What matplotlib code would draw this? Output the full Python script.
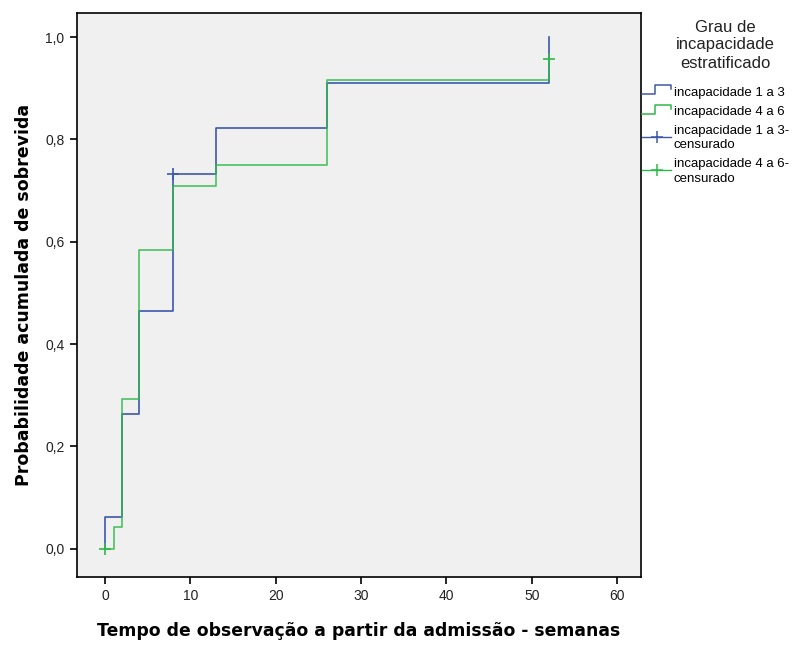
import matplotlib
matplotlib.use("Agg")
import matplotlib.pyplot as plt
from matplotlib.legend_handler import HandlerBase
from matplotlib.lines import Line2D
from matplotlib.ticker import FuncFormatter

# cumulative survival probability, step after each time
blue_t = [0, 0, 2, 4, 8, 13, 26, 52]
blue_p = [0, 0.0625, 0.264, 0.465, 0.733, 0.822, 0.911, 1.0]
green_t = [0, 1, 2, 4, 8, 13, 26, 52]
green_p = [0, 0.042, 0.292, 0.583, 0.708, 0.750, 0.917, 0.958]

# censored observations
blue_cens_t = [8]
blue_cens_p = [0.733]
green_cens_t = [0, 52]
green_cens_p = [0, 0.958]

labels = ["incapacidade 1 a 3", "incapacidade 4 a 6",
          "incapacidade 1 a 3-\ncensurado", "incapacidade 4 a 6-\ncensurado"]
legend_title = "Grau de\nincapacidade\nestratificado"

BLUE = "#3e58ac"
GREEN = "#2eb848"


class StepHandler(HandlerBase):
    """Small step icon like the SPSS legend."""
    def create_artists(self, legend, orig, xd, yd, w, h, fontsize, trans):
        xs = [xd, xd + 0.45 * w, xd + 0.45 * w, xd + w, xd + w]
        ys = [yd + 0.1 * h, yd + 0.1 * h, yd + h, yd + h, yd + 0.6 * h]
        ln = Line2D(xs, ys, color=orig.get_color(), lw=1.1, transform=trans)
        return [ln]


class CensHandler(HandlerBase):
    def create_artists(self, legend, orig, xd, yd, w, h, fontsize, trans):
        ln = Line2D([xd, xd + w], [yd + 0.5 * h] * 2, color=orig.get_color(),
                    lw=1.0, transform=trans)
        mk = Line2D([xd + 0.5 * w], [yd + 0.5 * h], color=orig.get_color(),
                    marker="+", ms=9, mew=1.1, ls="none", transform=trans)
        return [ln, mk]


fig = plt.figure(figsize=(8.08, 6.45), dpi=100)
ax = fig.add_axes([77 / 808, 68 / 645, 564 / 808, 564 / 645])
ax.set_facecolor("#f0f0f0")

ax.step(blue_t, blue_p, where="post", color=BLUE, lw=1.2)
ax.step(green_t, green_p, where="post", color=GREEN, lw=1.2, alpha=0.85)
ax.plot(blue_cens_t, blue_cens_p, ls="none", marker="+", ms=8, mew=1.2, color=BLUE)
ax.plot(green_cens_t, green_cens_p, ls="none", marker="+", ms=8, mew=1.2, color=GREEN)

ax.set_xlim(-3.3, 62.8)
ax.set_ylim(-0.055, 1.047)
ax.set_xticks(range(0, 61, 10))
ax.set_yticks([0, 0.2, 0.4, 0.6, 0.8, 1.0])
ax.yaxis.set_major_formatter(FuncFormatter(lambda v, _: f"{v:.1f}".replace(".", ",")))
ax.tick_params(length=5, width=1.2, labelsize=10, colors="black", pad=4)
for lab in ax.get_xticklabels() + ax.get_yticklabels():
    lab.set_fontfamily("Liberation Sans")
    lab.set_color("#222222")
for s in ax.spines.values():
    s.set_linewidth(1.2)

ax.set_xlabel("Tempo de observação a partir da admissão - semanas",
              fontsize=12.4, fontweight="bold", labelpad=13)
ax.set_ylabel("Probabilidade acumulada de sobrevida",
              fontsize=12.5, fontweight="bold", labelpad=9)

fig.text(725 / 808, 1 - 45 / 645, legend_title, ha="center", va="center",
         fontsize=12, family="Liberation Sans", linespacing=1.25, color="#222222")

h1 = Line2D([], [], color=BLUE)
h2 = Line2D([], [], color=GREEN)
h3 = Line2D([], [], color=BLUE)
h4 = Line2D([], [], color=GREEN)
leg = fig.legend([h1, h2, h3, h4], labels,
                 loc="upper left", bbox_to_anchor=(641 / 808, 1 - 85 / 645),
                 frameon=False, handler_map={h1: StepHandler(), h2: StepHandler(),
                                             h3: CensHandler(), h4: CensHandler()},
                 handlelength=2.2, handleheight=0.8, handletextpad=0.2,
                 labelspacing=0.5, borderaxespad=0, borderpad=0.1,
                 prop={"family": "Liberation Sans", "size": 9.5})
for t in leg.get_texts():
    t.set_linespacing(1.3)

fig.savefig("out.png", dpi=100)
